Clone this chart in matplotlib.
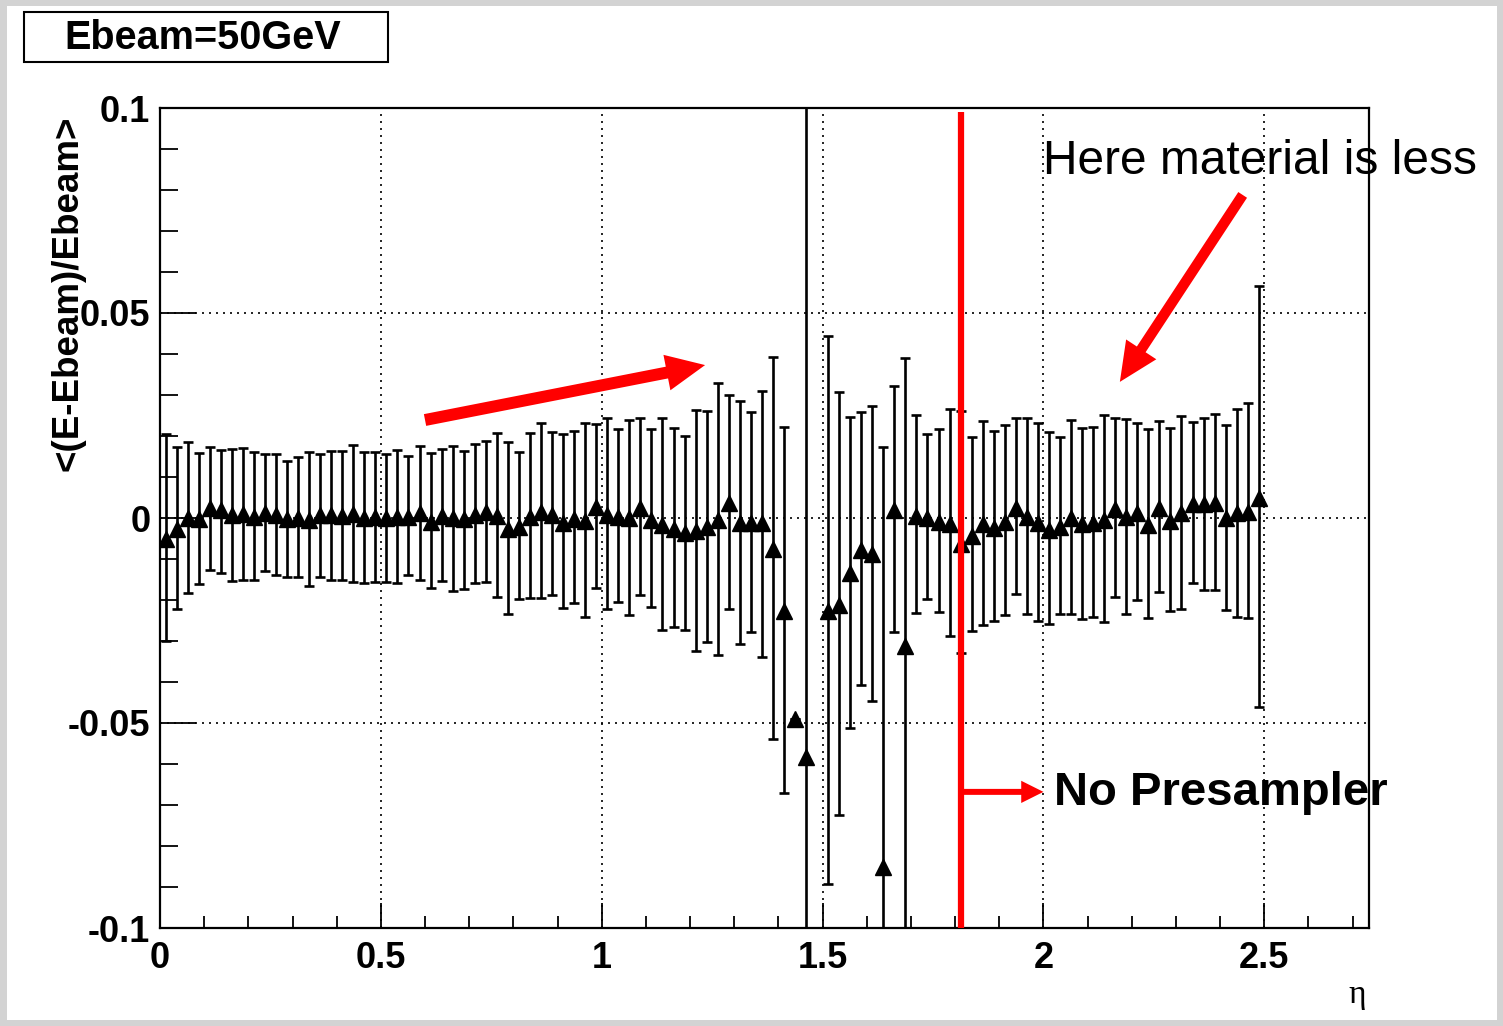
import matplotlib
matplotlib.use('Agg')
import matplotlib.pyplot as plt
import numpy as np
from matplotlib.patches import Rectangle
from matplotlib.ticker import MultipleLocator

plt.rcParams['font.family'] = ['Liberation Sans', 'DejaVu Sans']

# 100 eta bins of width 0.025, bin 59 is empty
eta = np.arange(100) * 0.025 + 0.0125

# mean, upper and lower end of the error bar
y_mean = [-0.0052, -0.0027, 0.0000, -0.0003, 0.0024, 0.0020, 0.0007, 0.0010, 0.0003, 0.0013,
          0.0007, -0.0003, 0.0001, -0.0005, 0.0007, 0.0007, 0.0005, 0.0010, 0.0000, 0.0002,
          0.0001, 0.0003, 0.0003, 0.0013, -0.0009, 0.0006, 0.0000, -0.0003, 0.0007, 0.0015,
          0.0005, -0.0028, -0.0023, 0.0003, 0.0015, 0.0007, -0.0011, -0.0002, -0.0007, 0.0028,
          0.0007, 0.0003, -0.0001, 0.0025, -0.0005, -0.0017, -0.0028, -0.0036, -0.0031, -0.0023,
          -0.0006, 0.0036, -0.0013, -0.0013, -0.0013, -0.0075, -0.0226, -0.0490, -0.0584, None,
          -0.0226, -0.0213, -0.0135, -0.0077, -0.0088, -0.0850, 0.0019, -0.0313, 0.0006, 0.0000,
          -0.0009, -0.0015, -0.0064, -0.0044, -0.0015, -0.0024, -0.0009, 0.0025, 0.0003, -0.0013,
          -0.0029, -0.0021, -0.0001, -0.0015, -0.0013, -0.0005, 0.0021, 0.0002, 0.0013, -0.0017,
          0.0025, -0.0007, 0.0011, 0.0034, 0.0033, 0.0037, -0.0001, 0.0011, 0.0014, 0.0050]
y_top = [0.0204, 0.0174, 0.0185, 0.0159, 0.0172, 0.0167, 0.0168, 0.0170, 0.0162, 0.0156,
         0.0156, 0.0139, 0.0150, 0.0162, 0.0156, 0.0163, 0.0163, 0.0178, 0.0162, 0.0162,
         0.0156, 0.0166, 0.0151, 0.0176, 0.0158, 0.0168, 0.0176, 0.0164, 0.0180, 0.0189,
         0.0207, 0.0185, 0.0162, 0.0207, 0.0231, 0.0209, 0.0205, 0.0212, 0.0231, 0.0229,
         0.0245, 0.0217, 0.0239, 0.0243, 0.0217, 0.0245, 0.0220, 0.0201, 0.0263, 0.0261,
         0.0329, 0.0299, 0.0286, 0.0258, 0.0309, 0.0393, 0.0222, -0.0490, 0.2000, None,
         0.0445, 0.0307, 0.0247, 0.0258, 0.0273, 0.0174, 0.0322, 0.0390, 0.0251, 0.0204,
         0.0217, 0.0266, 0.0260, 0.0197, 0.0237, 0.0211, 0.0227, 0.0243, 0.0243, 0.0231,
         0.0209, 0.0198, 0.0239, 0.0220, 0.0223, 0.0251, 0.0245, 0.0241, 0.0231, 0.0216,
         0.0237, 0.0220, 0.0249, 0.0233, 0.0245, 0.0254, 0.0228, 0.0267, 0.0281, 0.0566]
y_bot = [-0.0300, -0.0221, -0.0182, -0.0161, -0.0127, -0.0133, -0.0154, -0.0150, -0.0151, -0.0129,
         -0.0139, -0.0143, -0.0143, -0.0167, -0.0143, -0.0151, -0.0151, -0.0155, -0.0158, -0.0155,
         -0.0155, -0.0159, -0.0139, -0.0150, -0.0170, -0.0154, -0.0177, -0.0172, -0.0159, -0.0155,
         -0.0193, -0.0233, -0.0198, -0.0196, -0.0194, -0.0188, -0.0220, -0.0208, -0.0241, -0.0170,
         -0.0222, -0.0206, -0.0237, -0.0189, -0.0218, -0.0272, -0.0267, -0.0272, -0.0324, -0.0303,
         -0.0335, -0.0223, -0.0307, -0.0277, -0.0338, -0.0539, -0.0670, -0.0490, -0.2000, None,
         -0.0892, -0.0724, -0.0513, -0.0408, -0.0447, -0.2000, -0.0277, -0.2000, -0.0232, -0.0197,
         -0.0230, -0.0288, -0.0330, -0.0275, -0.0261, -0.0250, -0.0237, -0.0186, -0.0234, -0.0250,
         -0.0259, -0.0234, -0.0235, -0.0246, -0.0241, -0.0253, -0.0192, -0.0233, -0.0200, -0.0245,
         -0.0180, -0.0228, -0.0223, -0.0159, -0.0176, -0.0176, -0.0224, -0.0242, -0.0243, -0.0460]

x_ticks = [0, 0.5, 1, 1.5, 2, 2.5]
x_labels = ['0', '0.5', '1', '1.5', '2', '2.5']
y_ticks = [-0.1, -0.05, 0, 0.05, 0.1]
y_labels = ['-0.1', '-0.05', '0', '0.05', '0.1']

W, H = 1503, 1026
fig = plt.figure(figsize=(W / 100, H / 100), dpi=100)
fig.patch.set_facecolor('#d3d3d3')
fig.patches.append(Rectangle((7 / W, 6 / H), 1 - 13 / W, 1 - 12 / H, transform=fig.transFigure,
                             facecolor='white', edgecolor='none', zorder=-5))

ax = fig.add_axes([160 / W, 1 - 928 / H, 1209 / W, 820 / H])
ax.set_xlim(0, 2.737)
ax.set_ylim(-0.1, 0.1)

y = np.array([np.nan if v is None else v for v in y_mean])
hi = np.array([np.nan if v is None else v for v in y_top])
lo = np.array([np.nan if v is None else v for v in y_bot])
ok = ~np.isnan(y)
ax.errorbar(eta[ok], y[ok], yerr=[y[ok] - lo[ok], hi[ok] - y[ok]], fmt='^', color='black',
            ms=12, elinewidth=1.9, capsize=3.6, capthick=1.9, zorder=3)

ax.set_xticks(x_ticks)
ax.set_xticklabels(x_labels, fontsize=26, fontweight='bold')
ax.set_yticks(y_ticks)
ax.set_yticklabels(y_labels, fontsize=26, fontweight='bold')
ax.xaxis.set_minor_locator(MultipleLocator(0.1))
ax.yaxis.set_minor_locator(MultipleLocator(0.01))
ax.tick_params(axis='x', which='major', direction='in', length=18, width=1.3, pad=9)
ax.tick_params(axis='x', which='minor', direction='in', length=9, width=1.3)
ax.tick_params(axis='y', which='major', direction='in', length=26, width=1.3, pad=7)
ax.tick_params(axis='y', which='minor', direction='in', length=13, width=1.3)
ax.grid(True, which='major', color='black', linestyle=(0, (1.2, 3)), linewidth=1.2)
for s in ax.spines.values():
    s.set_linewidth(1.6)

fig.text(68 / W, 1 - 116 / H, '<(E-Ebeam)/Ebeam>', rotation=90, ha='center', va='top',
         fontsize=26.5, fontweight='bold')
fig.text(1366 / W, 1 - 995 / H, 'η', ha='right', va='center', fontsize=24,
         family=['Liberation Serif', 'DejaVu Serif'])

# title box
fig.patches.append(Rectangle((24 / W, 1 - 62 / H), 364 / W, 50 / H, transform=fig.transFigure,
                             facecolor='white', edgecolor='black', linewidth=1.5))
fig.text(203 / W, 1 - 38 / H, 'Ebeam=50GeV', ha='center', va='center', fontsize=28.5,
         fontweight='bold')

# red annotations
ax.plot([1.813, 1.813], [-0.1, 0.099], color='red', lw=4.5, zorder=5, solid_capstyle='butt')
ax.annotate('', xy=(2.0, -0.0668), xytext=(1.817, -0.0668),
            arrowprops=dict(facecolor='red', edgecolor='none', width=4.3, headwidth=16,
                            headlength=16, shrink=0), zorder=5)
ax.annotate('', xy=(1.234, 0.0373), xytext=(0.6, 0.0239),
            arrowprops=dict(facecolor='red', edgecolor='none', width=8.6, headwidth=26,
                            headlength=28, shrink=0), zorder=5)
ax.annotate('', xy=(2.173, 0.0332), xytext=(2.451, 0.0788),
            arrowprops=dict(facecolor='red', edgecolor='none', width=7.5, headwidth=26,
                            headlength=28, shrink=0), zorder=5)

fig.text(1043 / W, 1 - 161 / H, 'Here material is less', ha='left', va='center', fontsize=34.5)
fig.text(1054 / W, 1 - 793 / H, 'No Presampler', ha='left', va='center', fontsize=34,
         fontweight='bold')

fig.savefig('out.png', dpi=100)
